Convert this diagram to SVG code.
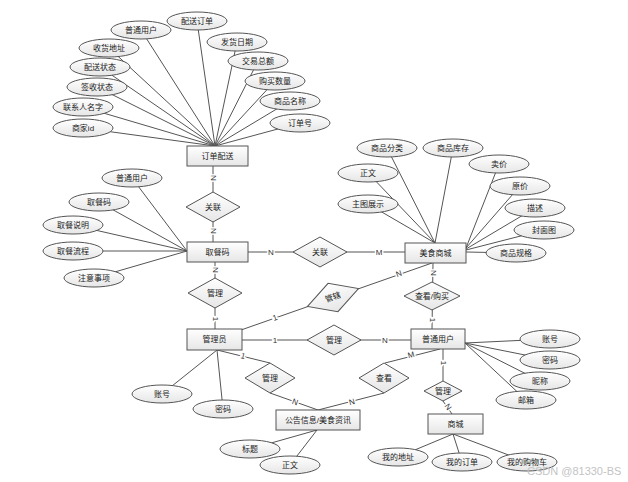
<svg xmlns="http://www.w3.org/2000/svg" width="628" height="482" viewBox="0 0 628 482">
<defs>
<linearGradient id="g" x1="0" y1="0" x2="0" y2="1">
<stop offset="0" stop-color="#ffffff"/>
<stop offset="1" stop-color="#e6e6e6"/>
</linearGradient>
</defs>
<style>
.ln{stroke:#555;stroke-width:1;fill:none}
.sh{fill:url(#g);stroke:#555;stroke-width:1}
text{font-family:"Liberation Sans","Noto Sans CJK SC",sans-serif;font-size:8px;fill:#222;text-anchor:middle;dominant-baseline:central}
.lb{font-size:8px;fill:#333;stroke:#fff;stroke-width:3px;paint-order:stroke}
.wm{font-size:11px;fill:#c4c4c4;text-anchor:start}
</style>
<rect width="628" height="482" fill="#fff"/>
<g id="connectors">
<!-- 订单配送 attributes -->
<path class="ln" d="M141,30L215,146M197,21L215,146M109,48L215,146M100,67L215,146M97,87L215,146M83,107L215,146M83,128L215,146M237,42L215,146M258,61L215,146M275,81L215,146M290,101L215,146M300,123L215,146"/>
<!-- 取餐码 attributes -->
<path class="ln" d="M132,178L187,251M99,202L187,251M73,225L187,251M73,251L187,251M94,278L187,251"/>
<!-- 美食商城 attributes -->
<path class="ln" d="M387,148L435,243M453,148L435,243M368,173L435,243M368,204L435,243M499,164L466,248M520,186L466,248M535,208L466,249M544,230L466,250M516,253L466,252"/>
<!-- 普通用户 attributes -->
<path class="ln" d="M550,339L465,343M550,360L465,343M540,381L465,343M526,400L465,343"/>
<!-- 管理员 attributes -->
<path class="ln" d="M162,394L217,350M223,409L217,350"/>
<!-- 公告 attributes -->
<path class="ln" d="M250,449L317,430M290,465L317,430"/>
<!-- 商城 attributes -->
<path class="ln" d="M398,457L453,434M462,462L453,434M527,462L453,434"/>
<!-- relationships -->
<path class="ln" d="M213,166L213,242"/>
<path class="ln" d="M248,252L405,252"/>
<path class="ln" d="M215,262L215,329"/>
<path class="ln" d="M241,330L432,263"/>
<path class="ln" d="M242,340L411,340"/>
<path class="ln" d="M433,263L432,329"/>
<path class="ln" d="M217,350L270,363M270,393L318,410"/>
<path class="ln" d="M440,349L385,363M384,393L318,410"/>
<path class="ln" d="M443,349L443,381M443,401L452,414"/>
<!-- cardinality labels -->
<text class="lb" transform="translate(213,178) rotate(90)">N</text>
<text class="lb" transform="translate(213,231) rotate(90)">N</text>
<text class="lb" x="271" y="252">N</text>
<text class="lb" x="379" y="252">M</text>
<text class="lb" transform="translate(215,270) rotate(90)">N</text>
<text class="lb" transform="translate(215,319) rotate(90)">1</text>
<text class="lb" transform="translate(275,318) rotate(-19.2)">1</text>
<text class="lb" transform="translate(399,274) rotate(-19.2)">N</text>
<text class="lb" x="275" y="340">1</text>
<text class="lb" x="385" y="340">N</text>
<text class="lb" transform="translate(433,273) rotate(90)">N</text>
<text class="lb" transform="translate(432,320) rotate(90)">1</text>
<text class="lb" transform="translate(243,356) rotate(14)">1</text>
<text class="lb" transform="translate(295,402) rotate(19.5)">N</text>
<text class="lb" transform="translate(411,355) rotate(-14.3)">M</text>
<text class="lb" transform="translate(352,402) rotate(-14.4)">N</text>
<text class="lb" transform="translate(443,363) rotate(90)">1</text>
<text class="lb" transform="translate(448,407) rotate(55)">N</text>
</g>
<!-- entities -->
<g id="e-order"><rect class="sh" x="187" y="146" width="61" height="20"/><text x="217.5" y="156">订单配送</text></g>
<g id="e-code"><rect class="sh" x="187" y="242" width="61" height="20"/><text x="217.5" y="252">取餐码</text></g>
<g id="e-mall"><rect class="sh" x="405" y="243" width="61" height="20"/><text x="435.5" y="253">美食商城</text></g>
<g id="e-admin"><rect class="sh" x="187" y="329" width="55" height="21"/><text x="214.5" y="339.5">管理员</text></g>
<g id="e-user"><rect class="sh" x="411" y="329" width="54" height="20"/><text x="438" y="339">普通用户</text></g>
<g id="e-news"><rect class="sh" x="276" y="410" width="84" height="20"/><text x="318" y="420">公告信息/美食资讯</text></g>
<g id="e-shop"><rect class="sh" x="428" y="414" width="55" height="20"/><text x="455.5" y="424">商城</text></g>
<!-- relationships -->
<g id="r-link1"><polygon class="sh" points="186,207 213,192 240,207 213,222"/><text x="213" y="207">关联</text></g>
<g id="r-link2"><polygon class="sh" points="293,252 320,237 347,252 320,267"/><text x="320" y="252">关联</text></g>
<g id="r-manage1"><polygon class="sh" points="188,293 215,278 242,293 215,308"/><text x="215" y="293">管理</text></g>
<g id="r-govern" transform="translate(333,297.5) rotate(-19.2)"><polygon class="sh" points="-27,0 0,-15 27,0 0,15"/><text x="0" y="0">管辖</text></g>
<g id="r-manage2"><polygon class="sh" points="307,340 334,325 361,340 334,355"/><text x="334" y="340">管理</text></g>
<g id="r-buy"><polygon class="sh" points="404,296 432,282 460,296 432,310"/><text x="432" y="296">查看/购买</text></g>
<g id="r-manage3"><polygon class="sh" points="245,378 270,363 295,378 270,393"/><text x="270" y="378">管理</text></g>
<g id="r-view"><polygon class="sh" points="359,378 384,363 409,378 384,393"/><text x="384" y="378">查看</text></g>
<g id="r-manage4"><polygon class="sh" points="424,391 443,381 462,391 443,401"/><text x="443" y="391">管理</text></g>
<!-- attributes -->
<g id="a-order">
<ellipse class="sh" cx="141" cy="30" rx="30" ry="9"/><text x="141" y="30">普通用户</text>
<ellipse class="sh" cx="197" cy="21" rx="30" ry="9"/><text x="197" y="21">配送订单</text>
<ellipse class="sh" cx="109" cy="48" rx="30" ry="9"/><text x="109" y="48">收货地址</text>
<ellipse class="sh" cx="100" cy="67" rx="30" ry="9"/><text x="100" y="67">配送状态</text>
<ellipse class="sh" cx="97" cy="87" rx="30" ry="9"/><text x="97" y="87">签收状态</text>
<ellipse class="sh" cx="83" cy="107" rx="30" ry="9"/><text x="83" y="107">联系人名字</text>
<ellipse class="sh" cx="83" cy="128" rx="30" ry="9"/><text x="83" y="128">商家id</text>
<ellipse class="sh" cx="237" cy="42" rx="30" ry="9"/><text x="237" y="42">发货日期</text>
<ellipse class="sh" cx="258" cy="61" rx="30" ry="9"/><text x="258" y="61">交易总额</text>
<ellipse class="sh" cx="275" cy="81" rx="30" ry="9"/><text x="275" y="81">购买数量</text>
<ellipse class="sh" cx="290" cy="101" rx="30" ry="9"/><text x="290" y="101">商品名称</text>
<ellipse class="sh" cx="300" cy="123" rx="30" ry="9"/><text x="300" y="123">订单号</text>
</g>
<g id="a-code">
<ellipse class="sh" cx="132" cy="178" rx="30" ry="9"/><text x="132" y="178">普通用户</text>
<ellipse class="sh" cx="99" cy="202" rx="30" ry="9"/><text x="99" y="202">取餐码</text>
<ellipse class="sh" cx="73" cy="225" rx="30" ry="9"/><text x="73" y="225">取餐说明</text>
<ellipse class="sh" cx="73" cy="251" rx="30" ry="9"/><text x="73" y="251">取餐流程</text>
<ellipse class="sh" cx="94" cy="278" rx="30" ry="9"/><text x="94" y="278">注意事项</text>
</g>
<g id="a-mall">
<ellipse class="sh" cx="387" cy="148" rx="30" ry="9"/><text x="387" y="148">商品分类</text>
<ellipse class="sh" cx="453" cy="148" rx="30" ry="9"/><text x="453" y="148">商品库存</text>
<ellipse class="sh" cx="368" cy="173" rx="30" ry="9"/><text x="368" y="173">正文</text>
<ellipse class="sh" cx="368" cy="204" rx="30" ry="9"/><text x="368" y="204">主图展示</text>
<ellipse class="sh" cx="499" cy="164" rx="30" ry="9"/><text x="499" y="164">卖价</text>
<ellipse class="sh" cx="520" cy="186" rx="30" ry="9"/><text x="520" y="186">原价</text>
<ellipse class="sh" cx="535" cy="208" rx="30" ry="9"/><text x="535" y="208">描述</text>
<ellipse class="sh" cx="544" cy="230" rx="30" ry="9"/><text x="544" y="230">封面图</text>
<ellipse class="sh" cx="516" cy="253" rx="30" ry="9"/><text x="516" y="253">商品规格</text>
</g>
<g id="a-user">
<ellipse class="sh" cx="550" cy="339" rx="30" ry="9"/><text x="550" y="339">账号</text>
<ellipse class="sh" cx="550" cy="360" rx="30" ry="9"/><text x="550" y="360">密码</text>
<ellipse class="sh" cx="540" cy="381" rx="30" ry="9"/><text x="540" y="381">昵称</text>
<ellipse class="sh" cx="526" cy="400" rx="30" ry="9"/><text x="526" y="400">邮箱</text>
</g>
<g id="a-admin">
<ellipse class="sh" cx="162" cy="394" rx="30" ry="9"/><text x="162" y="394">账号</text>
<ellipse class="sh" cx="223" cy="409" rx="30" ry="9"/><text x="223" y="409">密码</text>
</g>
<g id="a-news">
<ellipse class="sh" cx="250" cy="449" rx="30" ry="9"/><text x="250" y="449">标题</text>
<ellipse class="sh" cx="290" cy="465" rx="30" ry="9"/><text x="290" y="465">正文</text>
</g>
<g id="a-shop">
<ellipse class="sh" cx="398" cy="457" rx="30" ry="9"/><text x="398" y="457">我的地址</text>
<ellipse class="sh" cx="462" cy="462" rx="30" ry="9"/><text x="462" y="462">我的订单</text>
<ellipse class="sh" cx="527" cy="462" rx="30" ry="9"/><text x="527" y="462">我的购物车</text>
</g>
<text class="wm" x="527" y="471">CSDN @81330-BS</text>
</svg>
